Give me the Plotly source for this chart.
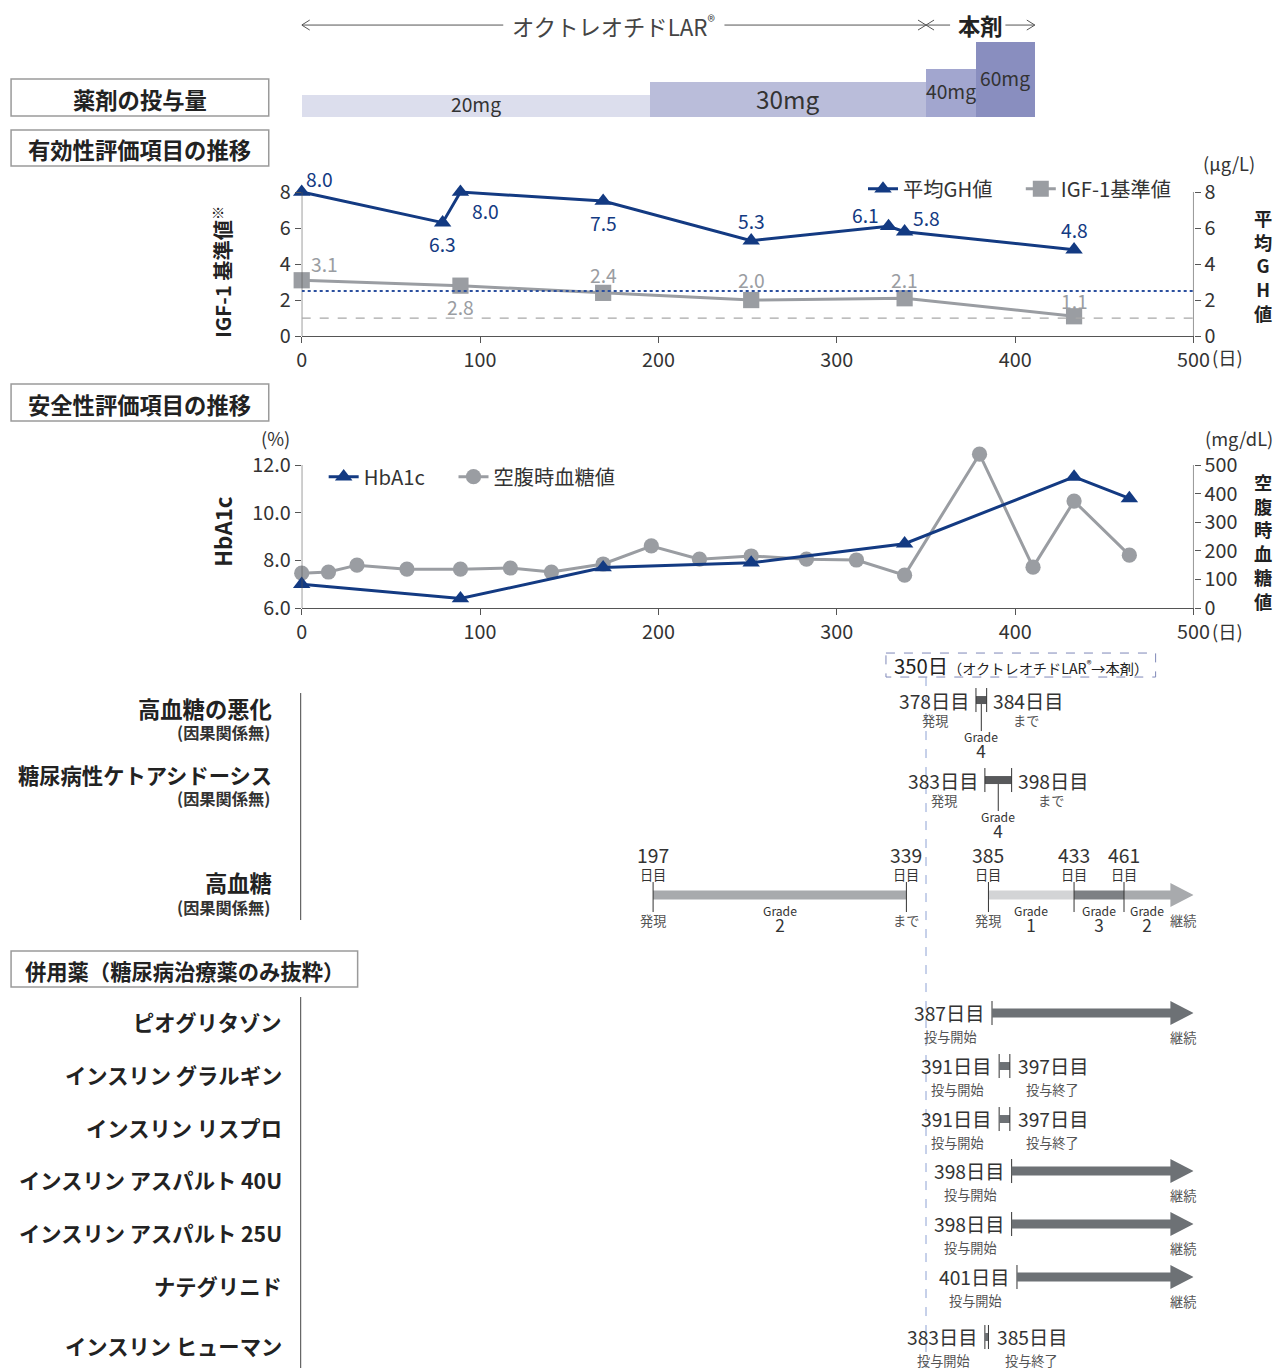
import plotly.graph_objects as go

# ---- page geometry (reference pixel space R -> figure pixel space) ----
RW, RH = 1279, 1368
SX, SY, OX, OY = 0.985, 0.987, 5.0, 5.0


def X(r):
    return r / SX - OX


def Y(r):
    return r / SY - OY


W, H = int(round(X(RW))), int(round(Y(RH)))
FS = 1 / 0.986

FONT = "Noto Sans CJK JP, Noto Sans, sans-serif"
NAVY = "#133a82"
GRAY = "#9a9da2"
TXT = "#333333"
AX = "#555555"

# ---------------- data ----------------
dose_label = ["20mg", "30mg", "40mg", "60mg"]
dose_mg = [20, 30, 40, 60]
dose_start = [0, 195, 350, 378]
dose_end = [195, 350, 378, 411]
switch_day = 350

gh_day = [0, 79, 89, 169, 252, 329, 338, 433]
gh_val = [8.0, 6.3, 8.0, 7.5, 5.3, 6.1, 5.8, 4.8]
igf_day = [0, 89, 169, 252, 338, 433]
igf_val = [3.1, 2.8, 2.4, 2.0, 2.1, 1.1]
gh_cutoff = 2.5
igf_cutoff = 1.0

hba1c_day = [0, 89, 169, 252, 338, 433, 464]
hba1c_val = [7.0, 6.4, 7.7, 7.9, 8.7, 11.5, 10.6]
fpg_day = [0, 15, 31, 59, 89, 117, 140, 169, 196, 223, 252, 283, 311, 338, 380, 410, 433, 464]
fpg_val = [122, 126, 150, 136, 136, 140, 126, 154, 217, 171, 182, 171, 168, 115, 538, 143, 374, 185]

x_ticks = [0, 100, 200, 300, 400, 500]
eff_ticks = [0, 2, 4, 6, 8]
hba1c_ticks = [6, 8, 10, 12]
fpg_ticks = [0, 100, 200, 300, 400, 500]

ae_name = ["高血糖の悪化", "糖尿病性ケトアシドーシス"]
ae_start = [378, 383]
ae_end = [384, 398]
ae_grade = [4, 4]
hg_start = [197, 385, 433, 461]
hg_end = [339, 433, 461, None]
hg_grade = [2, 1, 3, 2]

med_name = ["ピオグリタゾン", "インスリン グラルギン", "インスリン リスプロ",
            "インスリン アスパルト 40U", "インスリン アスパルト 25U", "ナテグリニド", "インスリン ヒューマン"]
med_start = [387, 391, 391, 398, 398, 401, 383]
med_end = [None, 397, 397, None, None, None, 385]

# ---------------- styles ----------------
dose_color = ["#dcdeed", "#babdda", "#a2a6cf", "#898ebf"]
dose_font = [19, 24, 19, 19]
dose_text_y = [104, 98, 91, 78]
grade_color = {1: "#d3d4d6", 2: "#a8aaad", 3: "#7d8084"}
MED_C = "#6d7175"
ARROW_END = 500
HEAD_START = 487
ae_font = [22, 21]
# label offsets (px) relative to the marker: (dx, dy), dy positive = downward
gh_lab_off = [(18, -13), (0, 21), (25, 19), (0, 22), (0, -19), (-23, -11), (22, -13), (0, -19)]
igf_lab_off = [(22, -16), (0, 21), (0, -18), (0, -20), (0, -18), (0, -15)]

DX = [X(302) / W, X(1195) / W]


def dom(top, bottom):
    return [1 - Y(bottom) / H, 1 - Y(top) / H]


def lg(xr, yr):
    return dict(x=X(xr) / W, y=1 - Y(yr) / H, xanchor="left", yanchor="middle", orientation="h",
                font=dict(family=FONT, size=20 * FS, color=TXT), bgcolor="rgba(0,0,0,0)",
                itemwidth=30, borderwidth=0)


fig = go.Figure()

# dose bars
fig.add_trace(go.Bar(
    x=[(s + e) / 2 for s, e in zip(dose_start, dose_end)],
    width=[e - s for s, e in zip(dose_start, dose_end)],
    y=dose_mg, marker=dict(color=dose_color, line=dict(width=0)),
    xaxis="x3", yaxis="y5", showlegend=False, hoverinfo="skip"))

MS = FS
# efficacy
fig.add_trace(go.Scatter(
    x=igf_day, y=igf_val, name="IGF-1基準値", mode="lines+markers",
    line=dict(color=GRAY, width=3), marker=dict(symbol="square", size=16 * MS, color=GRAY),
    xaxis="x", yaxis="y", legend="legend3", cliponaxis=False))
fig.add_trace(go.Scatter(
    x=gh_day, y=gh_val, name="平均GH値", mode="lines+markers",
    line=dict(color=NAVY, width=3), marker=dict(symbol="triangle-up", size=15 * MS, color=NAVY),
    xaxis="x", yaxis="y2", legend="legend", cliponaxis=False))

# safety
fig.add_trace(go.Scatter(
    x=fpg_day, y=fpg_val, name="空腹時血糖値", mode="lines+markers",
    line=dict(color=GRAY, width=3), marker=dict(symbol="circle", size=15 * MS, color=GRAY),
    xaxis="x2", yaxis="y3", legend="legend4", cliponaxis=False))
fig.add_trace(go.Scatter(
    x=hba1c_day, y=hba1c_val, name="HbA1c", mode="lines+markers",
    line=dict(color=NAVY, width=3), marker=dict(symbol="triangle-up", size=15 * MS, color=NAVY),
    xaxis="x2", yaxis="y4", legend="legend2", cliponaxis=False))

shapes, ann = [], []


def L(x0, y0, x1, y1, color=TXT, w=1, dash=None, xref="x4", yref="y6"):
    shapes.append(dict(type="line", xref=xref, yref=yref, x0=x0, y0=y0, x1=x1, y1=y1,
                       line=dict(color=color, width=w, dash=dash), layer="above"))


def R(x0, y0, x1, y1, fill, lc=None, lw=0, dash=None, xref="x4", yref="y6"):
    shapes.append(dict(type="rect", xref=xref, yref=yref, x0=x0, y0=y0, x1=x1, y1=y1,
                       fillcolor=fill, line=dict(color=lc or fill, width=lw, dash=dash), layer="above"))


def PATH(p, fill, xref="x4", yref="y6"):
    shapes.append(dict(type="path", xref=xref, yref=yref, path=p, fillcolor=fill,
                       line=dict(width=0), layer="above"))


def T(x, y, s, size=18, color=TXT, xanchor="center", xshift=0, yshift=0, xref="x4", yref="y6",
      bold=False, angle=0):
    if bold:
        s = f"<b>{s}</b>"
    ann.append(dict(x=x, y=y, xref=xref, yref=yref, text=s, showarrow=False, xanchor=xanchor,
                    yanchor="middle", xshift=xshift / SX, yshift=yshift / SY, textangle=angle,
                    font=dict(family=FONT, size=size * FS, color=color)))


def sz(s, n):
    return f"<span style='font-size:{n * FS:.1f}px'>{s}</span>"


# ---- value labels ----
for d, v, (dx, dy) in zip(gh_day, gh_val, gh_lab_off):
    T(d, v, f"{v:.1f}", 19, NAVY, xshift=dx, yshift=-dy, xref="x", yref="y2")
for d, v, (dx, dy) in zip(igf_day, igf_val, igf_lab_off):
    T(d, v, f"{v:.1f}", 19, GRAY, xshift=dx, yshift=-dy, xref="x", yref="y")

# ---- header arrows ----
hy = 25
mid = switch_day / 2
L(0, hy, mid - 62, hy, "#555")
L(mid + 62, hy, switch_day, hy, "#555")
for sx, sgn in [(0, 1), (switch_day, -1), (switch_day, 1)]:
    L(sx, hy, sx + sgn * 4.5, hy - 5, "#555")
    L(sx, hy, sx + sgn * 4.5, hy + 5, "#555")
T(mid, hy, "オクトレオチドLAR<sup>®</sup>", 22, "#444")
m2 = (switch_day + dose_end[-1]) / 2
L(switch_day, hy, m2 - 17, hy, "#555")
L(m2 + 14, hy, dose_end[-1], hy, "#555")
L(dose_end[-1], hy, dose_end[-1] - 4.5, hy - 5, "#555")
L(dose_end[-1], hy, dose_end[-1] - 4.5, hy + 5, "#555")
T(m2, hy, "本剤", 22, "#222", bold=True)

for i in range(4):
    T((dose_start[i] + dose_end[i]) / 2, dose_text_y[i], dose_label[i], dose_font[i], "#333", xref="x3")

# ---- section boxes ----
for (x0, y0, x1, y1, txt, fz) in [(11, 79, 269, 116, "薬剤の投与量", 22),
                                  (11, 130, 269, 166, "有効性評価項目の推移", 22),
                                  (11, 384, 269, 421, "安全性評価項目の推移", 22),
                                  (11, 951, 358, 987, "併用薬（糖尿病治療薬のみ抜粋）", 21)]:
    R(x0, y0, x1, y1, "rgba(0,0,0,0)", "#9a9a9a", 1.5, xref="x5")
    T((x0 + x1) / 2, (y0 + y1) / 2 + 1, txt, fz, "#222", xref="x5", bold=True)

# ---- efficacy extras ----
L(0, 0, 0, 8, AX, 1.2, xref="x", yref="y")
L(500, 0, 500, 8, AX, 1.2, xref="x", yref="y")
shapes.append(dict(type="line", xref="x", yref="y2", x0=0, x1=500, y0=gh_cutoff, y1=gh_cutoff,
                   line=dict(color="#2b4f9e", width=2, dash="dot")))
shapes.append(dict(type="line", xref="x", yref="y", x0=0, x1=500, y0=igf_cutoff, y1=igf_cutoff,
                   line=dict(color="#a8a8a8", width=1.2, dash="dash")))
T(1230, 163, "(μg/L)", 18, xref="x5")
T(1229, 357, "(日)", 18, xref="x5")
T(1229, 631, "(日)", 18, xref="x5")
T(222, 272, "IGF-1 基準値<sup>※</sup>", 20, "#222", xref="x5", bold=True, angle=-90)
T(1265, 265, "<br>".join("平均GH値"), 18, "#222", xref="x5", bold=True)

# ---- safety extras ----
L(0, 6, 0, 12, AX, 1.2, xref="x2", yref="y4")
L(500, 6, 500, 12, AX, 1.2, xref="x2", yref="y4")
T(276, 438, "(%)", 18, xref="x5")
T(1240, 438, "(mg/dL)", 18, xref="x5")
T(222, 531, "HbA1c", 22, "#222", xref="x5", bold=True, angle=-90)
T(1265, 541, "<br>".join("空腹時血糖値"), 18, "#222", xref="x5", bold=True)

# ---- switch marker ----
R(887, 653, 1157, 677, "rgba(0,0,0,0)", "#7f88b8", 1, "dash", xref="x5")
T(1022, 665, "350日" + sz("（オクトレオチドLAR<sup>®</sup>→本剤）", 14), 20, "#222", xref="x5")
L(switch_day, 677, switch_day, RH, "#8ea2d4", 1, "dash")

# ---- adverse events ----
L(301, 693, 301, 920, "#444", 1, xref="x5")
ae_y = [700, 780]
ae_label_y = [708, 774]
for i in range(len(ae_name)):
    c = ae_y[i]
    s, e = ae_start[i], ae_end[i]
    m = (s + e) / 2
    R(s, c - 4, e, c + 4, "#58595b")
    L(s, c - 12, s, c + 12, "#333")
    L(e, c - 12, e, c + 12, "#333")
    L(m, c + 4, m, c + 31, "#333")
    T(s, c + 1, f"{s}日目", 19, xanchor="right", xshift=-4)
    T(e, c + 1, f"{e}日目", 19, xanchor="left", xshift=4)
    T(s, c + 20, "発現", 13, "#555", xshift=-40)
    T(e, c + 20, "まで", 13, "#555", xshift=39)
    T(m, c + 45, "Grade<br>" + sz(str(ae_grade[i]), 17), 12)
    T(274, ae_label_y[i], ae_name[i], ae_font[i], "#222", xanchor="right", xref="x5", bold=True)
    T(272, ae_label_y[i] + 24, "(因果関係無)", 16, "#333", xanchor="right", xref="x5", bold=True)

# hyperglycaemia
c = 895
T(274, 882, "高血糖", 22, "#222", xanchor="right", xref="x5", bold=True)
T(272, 907, "(因果関係無)", 16, "#333", xanchor="right", xref="x5", bold=True)
ticks = []
for i in range(len(hg_start)):
    s, e, g = hg_start[i], hg_end[i], hg_grade[i]
    col = grade_color[g]
    if e is None:
        PATH(f"M {s},{c-4.5} L {HEAD_START},{c-4.5} L {HEAD_START},{c-12} L {ARROW_END},{c} "
             f"L {HEAD_START},{c+12} L {HEAD_START},{c+4.5} L {s},{c+4.5} Z", col)
        m = (s + HEAD_START) / 2
        T(ARROW_END - 6, c + 25, "継続", 13, "#555")
    else:
        R(s, c - 4.5, e, c + 4.5, col)
        m = (s + e) / 2
    if i == 0 or hg_end[i - 1] != s:
        T(s, c + 25, "発現", 13, "#555")
    if e is not None and (i + 1 >= len(hg_start) or hg_start[i + 1] != e):
        T(e, c + 25, "まで", 13, "#555")
    for d in (s, e):
        if d is not None and d not in ticks:
            ticks.append(d)
    T(m, c + 24, "Grade<br>" + sz(str(g), 17), 12)
for d in ticks:
    L(d, c - 13, d, c + 17, "#333")
    T(d, 862, sz(str(d), 19) + "<br>日目", 13)

# ---- concomitant medications ----
L(301, 997, 301, RH, "#444", 1, xref="x5")
med_y = [1013, 1066, 1119, 1171, 1224, 1277, 1337]
SUB = 23
for i in range(len(med_name)):
    c = med_y[i]
    s, e = med_start[i], med_end[i]
    L(s, c - 12, s, c + 12, "#333")
    if e is None:
        PATH(f"M {s},{c-4.5} L {HEAD_START},{c-4.5} L {HEAD_START},{c-12} L {ARROW_END},{c} "
             f"L {HEAD_START},{c+12} L {HEAD_START},{c+4.5} L {s},{c+4.5} Z", MED_C)
        T(ARROW_END - 6, c + SUB + 1, "継続", 13, "#555")
    else:
        R(s, c - 4, e, c + 4, MED_C)
        L(e, c - 12, e, c + 12, "#333")
        T(e, c, f"{e}日目", 19, xanchor="left", xshift=6)
        T(e, c + SUB, "投与終了", 13, "#555", xshift=42)
    T(s, c, f"{s}日目", 19, xanchor="right", xshift=-5)
    T(s, c + SUB, "投与開始", 13, "#555", xshift=-41)
    T(284, c + 8, med_name[i], 21, "#222", xanchor="right", xref="x5", bold=True)

axis_style = dict(showline=True, linecolor=AX, linewidth=1.2, ticks="outside", ticklen=6,
                  tickcolor=AX, tickwidth=1, showgrid=False, zeroline=False,
                  tickfont=dict(family=FONT, size=19.5 * FS, color=TXT))
yaxis_style = dict(axis_style, showline=False)
hidden = dict(visible=False, showgrid=False, zeroline=False, fixedrange=True)

EFF_TOP = 8.6
S_TOP_PX = 440
HB_TOP = 6 + (608 - S_TOP_PX) / (143 / 6)
FPG_TOP = (608 - S_TOP_PX) / (143 / 500)

fig.update_layout(
    width=W, height=H, autosize=False,
    margin=dict(l=0, r=0, t=0, b=0),
    paper_bgcolor="white", plot_bgcolor="rgba(0,0,0,0)",
    font=dict(family=FONT, color=TXT),
    xaxis=dict(domain=DX, range=[0, 500], anchor="y", tickvals=x_ticks, **axis_style),
    yaxis=dict(domain=dom(336 - EFF_TOP * 18, 336), range=[0, EFF_TOP], anchor="x", side="left",
               tickvals=eff_ticks, **yaxis_style),
    yaxis2=dict(range=[0, EFF_TOP], anchor="x", overlaying="y", side="right", tickvals=eff_ticks, **yaxis_style),
    xaxis2=dict(domain=DX, range=[0, 500], anchor="y3", tickvals=x_ticks, **axis_style),
    yaxis3=dict(domain=dom(S_TOP_PX, 608), range=[0, FPG_TOP], anchor="x2", side="right",
                tickvals=fpg_ticks, **yaxis_style),
    yaxis4=dict(range=[6, HB_TOP], anchor="x2", overlaying="y3", side="left", tickvals=hba1c_ticks,
                tickformat=".1f", **yaxis_style),
    xaxis3=dict(domain=DX, range=[0, 500], anchor="y5", **hidden),
    yaxis5=dict(domain=dom(42, 117), range=[3.4, 60], anchor="x3", **hidden),
    xaxis4=dict(domain=DX, range=[0, 500], anchor="y6", **hidden),
    yaxis6=dict(domain=[0, 1], range=[(H + OY) * SY, OY * SY], anchor="x4", **hidden),
    xaxis5=dict(domain=[0, 1], range=[OX * SX, (W + OX) * SX], anchor="y6", **hidden),
    legend=lg(864, 189),
    legend3=lg(1022, 189),
    legend2=lg(324, 477),
    legend4=lg(454, 477),
    shapes=shapes, annotations=ann, bargap=0,
)

POST = ("var gd=document.querySelector('.plotly-graph-div');"
        "gd.style.position='absolute';gd.style.left='0px';gd.style.top='0px';"
        "document.body.style.margin='0px';document.body.style.overflow='hidden';")
fig.write_html("out.html", post_script=POST, config={"displayModeBar": False})
